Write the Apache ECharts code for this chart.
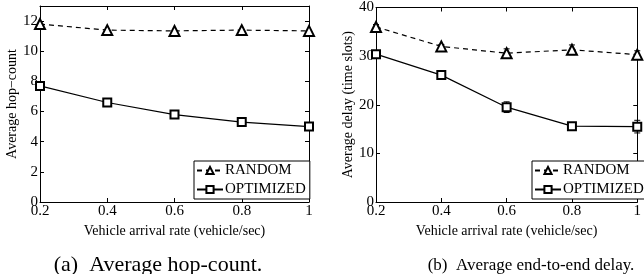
<!DOCTYPE html>
<html>
<head>
<meta charset="utf-8">
<script src="https://cdn.jsdelivr.net/npm/echarts@6/dist/echarts.min.js"></script>
<style>
  html, body { margin: 0; padding: 0; background: #fff; }
  #chart { width: 644px; height: 274px; }
</style>
</head>
<body>
<div id="chart"></div>
<script>
// x categories (vehicle arrival rate)
var rates = ['0.2', '0.4', '0.6', '0.8', '1'];

// (a) average hop-count
var hopRandom = [11.8, 11.4, 11.35, 11.4, 11.35];
var hopOptimized = [7.7, 6.6, 5.8, 5.3, 5.0];

// (b) average end-to-end delay
var delayRandom = [36.0, 32.0, 30.6, 31.3, 30.3];
var delayOptimized = [30.4, 26.1, 19.5, 15.6, 15.5];
// half widths of error bars for (b)
var delayRandomErr = [0.5, 0.4, 0.9, 1.0, 0.8];
var delayOptimizedErr = [0.3, 0.4, 1.1, 0.3, 1.3];

var serif = 'Liberation Serif';

var chart = echarts.init(document.getElementById('chart'));

function errData(vals, errs) {
  return vals.map(function (v, i) { return [i, v - errs[i], v + errs[i]]; });
}

function renderErr(params, api) {
  var lo = api.coord([api.value(0), api.value(1)]);
  var hi = api.coord([api.value(0), api.value(2)]);
  var w = 3;
  var st = { stroke: '#000', lineWidth: 1 };
  return {
    type: 'group',
    children: [
      { type: 'line', shape: { x1: lo[0], y1: lo[1], x2: hi[0], y2: hi[1] }, style: st },
      { type: 'line', shape: { x1: lo[0] - w, y1: lo[1], x2: lo[0] + w, y2: lo[1] }, style: st },
      { type: 'line', shape: { x1: hi[0] - w, y1: hi[1], x2: hi[0] + w, y2: hi[1] }, style: st }
    ]
  };
}

function xAx(gi, pos) {
  return {
    type: 'category', gridIndex: gi, position: pos, data: rates, boundaryGap: false,
    name: pos === 'bottom' ? 'Vehicle arrival rate (vehicle/sec)' : '',
    nameLocation: 'middle', nameGap: 18,
    nameTextStyle: { fontFamily: serif, fontSize: 14, color: '#000' },
    axisLine: { onZero: false, lineStyle: { color: '#000', width: 1 } },
    axisTick: { inside: true, length: 4, alignWithLabel: true, lineStyle: { color: '#000' } },
    axisLabel: { show: pos === 'bottom', fontFamily: serif, fontSize: 15, color: '#000', margin: 2 },
    splitLine: { show: false }
  };
}

function yAx(gi, pos, max, step, name) {
  return {
    type: 'value', gridIndex: gi, position: pos, min: 0, max: max, interval: step,
    name: name, nameLocation: 'middle', nameGap: 17,
    nameTextStyle: { fontFamily: serif, fontSize: 14, color: '#000' },
    axisLine: { show: true, onZero: false, lineStyle: { color: '#000', width: 1 } },
    axisTick: { show: true, inside: true, length: 4, lineStyle: { color: '#000' } },
    axisLabel: { show: pos === 'left', showMaxLabel: max % step === 0, fontFamily: serif, fontSize: 15, color: '#000', margin: 2 },
    splitLine: { show: false }
  };
}

function lineSeries(name, gi, data, dashed, sym, size) {
  return {
    name: name, type: 'line', xAxisIndex: gi * 2, yAxisIndex: gi * 2, data: data,
    symbol: sym, symbolSize: size, showAllSymbol: true,
    lineStyle: { color: '#000', width: 1.2, type: dashed ? [5, 4] : 'solid' },
    itemStyle: { color: '#000', borderWidth: 1 },
    z: 3
  };
}

function legendAt(left) {
  return {
    orient: 'vertical', left: left, top: 161,
    data: ['RANDOM', 'OPTIMIZED'],
    itemWidth: 26, itemHeight: 9, itemGap: 4,
    padding: [2, 4, 2, 2],
    backgroundColor: '#fff', borderColor: '#000', borderWidth: 1, borderRadius: 0,
    textStyle: { fontFamily: serif, fontSize: 15, color: '#000', padding: [0, 0, 0, -3] },
    selectedMode: false
  };
}

var option = {
  animation: false,
  backgroundColor: '#fff',
  grid: [
    { left: 40, top: 6, width: 269, height: 196 },
    { left: 376, top: 6, width: 270, height: 196 }
  ],
  xAxis: [xAx(0, 'bottom'), xAx(0, 'top'), xAx(1, 'bottom'), xAx(1, 'top')],
  yAxis: [
    yAx(0, 'left', 13, 2, 'Average hop\u2212count'), yAx(0, 'right', 13, 2, ''),
    yAx(1, 'left', 40, 10, 'Average delay (time slots)'), yAx(1, 'right', 40, 10, '')
  ],
  legend: [legendAt(194), legendAt(532)],
  title: [
    { text: '(a)  Average hop-count.', left: 153, top: 249, textAlign: 'center',
      textStyle: { fontFamily: serif, fontSize: 22, fontWeight: 'normal', color: '#000' } },
    { text: '(b)  Average end-to-end delay.', left: 526, top: 252, textAlign: 'center',
      textStyle: { fontFamily: serif, fontSize: 17, fontWeight: 'normal', color: '#000' } }
  ],
  series: [
    lineSeries('RANDOM', 0, hopRandom, true, 'emptyTriangle', 10),
    lineSeries('OPTIMIZED', 0, hopOptimized, false, 'emptyRect', 8),
    lineSeries('RANDOM', 1, delayRandom, true, 'emptyTriangle', 10),
    lineSeries('OPTIMIZED', 1, delayOptimized, false, 'emptyRect', 8),
    { type: 'custom', xAxisIndex: 2, yAxisIndex: 2, renderItem: renderErr,
      data: errData(delayRandom, delayRandomErr), z: 2 },
    { type: 'custom', xAxisIndex: 2, yAxisIndex: 2, renderItem: renderErr,
      data: errData(delayOptimized, delayOptimizedErr), z: 2 }
  ]
};

chart.setOption(option);
</script>
</body>
</html>
